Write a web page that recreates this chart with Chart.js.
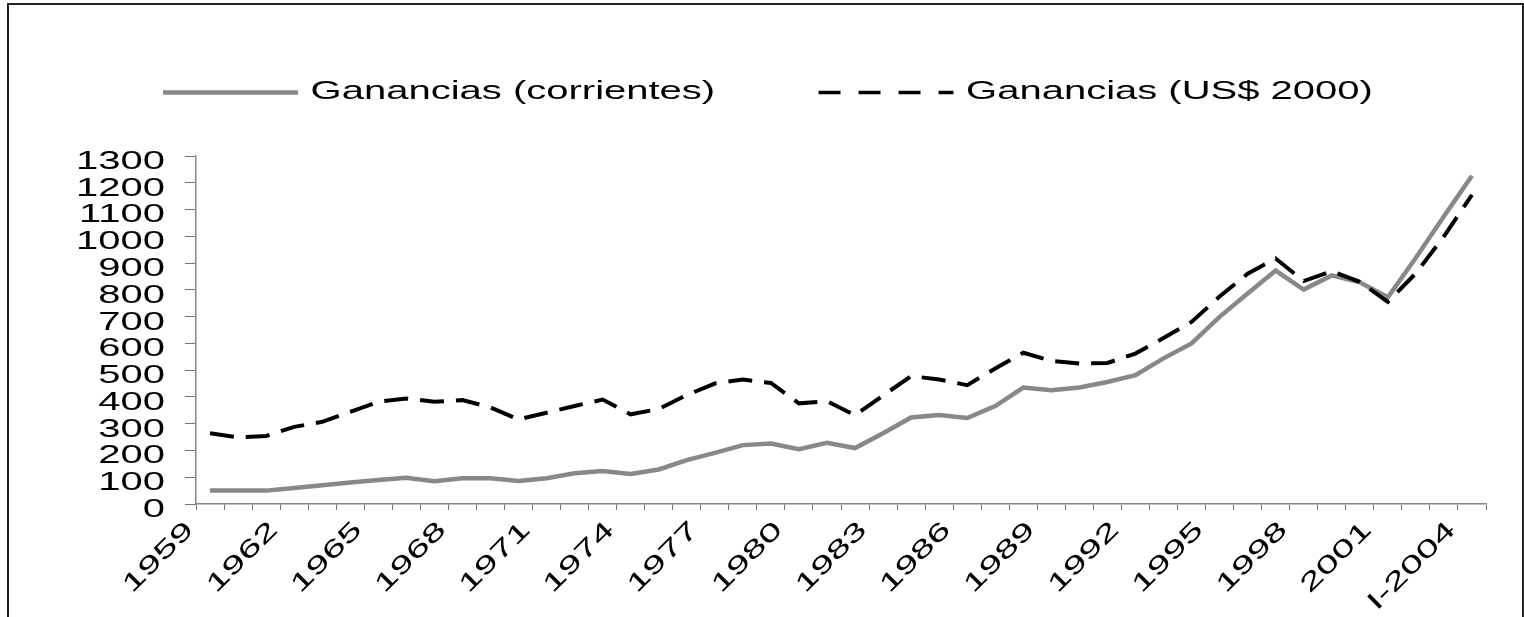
<!DOCTYPE html>
<html lang="es">
<head>
<meta charset="utf-8">
<title>Ganancias</title>
<script src="https://cdn.jsdelivr.net/npm/chart.js@4.4.1/dist/chart.umd.min.js"></script>
<style>
  html, body { margin: 0; padding: 0; background: #fff; overflow: hidden; }
  #wrap { position: relative; width: 1524px; height: 617px; }
  #frame { position: absolute; left: 7px; top: 3px; width: 1513px; height: 700px; border: 2px solid #222; }
  #chart { position: absolute; left: 0; top: 0; }
</style>
</head>
<body>
<div id="wrap">
  <div id="frame"></div>
  <canvas id="chart" width="1524" height="617"></canvas>
</div>
<script>
// años (el último es el primer trimestre de 2004)
const years = [
  '1959', '1960', '1961', '1962', '1963', '1964', '1965', '1966', '1967', '1968',
  '1969', '1970', '1971', '1972', '1973', '1974', '1975', '1976', '1977', '1978',
  '1979', '1980', '1981', '1982', '1983', '1984', '1985', '1986', '1987', '1988',
  '1989', '1990', '1991', '1992', '1993', '1994', '1995', '1996', '1997', '1998',
  '1999', '2000', '2001', '2002', '2003', 'I-2004'
];

const corrientes = [
  50, 50, 50, 60, 70, 80, 90, 98, 85, 96,
  96, 86, 96, 115, 123, 112, 129, 164, 191, 220,
  226, 205, 229, 209, 264, 323, 332, 321, 366, 435,
  425, 435, 456, 481, 544, 600, 699, 786, 872, 801,
  854, 828, 772, 920, 1075, 1226
];

const usd2000 = [
  264, 249, 254, 288, 307, 344, 382, 394, 382, 388,
  361, 316, 341, 366, 390, 335, 355, 407, 450, 465,
  452, 376, 384, 332, 405, 478, 465, 444, 506, 565,
  535, 525, 527, 562, 620, 680, 775, 860, 917, 833,
  870, 830, 755, 862, 1000, 1155
];

const seriesNames = ['Ganancias (corrientes)', 'Ganancias (US$ 2000)'];
const yMin = 0;
const yMax = 1300;
const yStep = 100;
const labelEvery = 3;

// the original uses a very wide sans serif, so every text gets stretched sideways
const FONT_STRETCH = 1.6;
const canvas = document.getElementById('chart');
const ctx = canvas.getContext('2d');
const plainFillText = ctx.fillText.bind(ctx);
const plainMeasureText = ctx.measureText.bind(ctx);
ctx.fillText = (text, x, y) => {
  ctx.save();
  ctx.translate(x, y);
  ctx.scale(FONT_STRETCH, 1);
  plainFillText(text, 0, 0);
  ctx.restore();
};
ctx.measureText = (text) => {
  const m = plainMeasureText(text);
  return {
    width: m.width * FONT_STRETCH,
    actualBoundingBoxAscent: m.actualBoundingBoxAscent,
    actualBoundingBoxDescent: m.actualBoundingBoxDescent
  };
};

const font = { family: '"Liberation Sans", Arial, sans-serif', size: 25 };

new Chart(canvas, {
  type: 'line',
  data: {
    labels: years,
    datasets: [
      {
        label: seriesNames[0],
        data: corrientes,
        borderColor: '#888888',
        backgroundColor: '#888888',
        borderWidth: 4.5,
        pointRadius: 0,
        tension: 0,
        order: 1
      },
      {
        label: seriesNames[1],
        data: usd2000,
        borderColor: '#000000',
        backgroundColor: '#000000',
        borderWidth: 4,
        borderDash: [24, 12],
        pointRadius: 0,
        tension: 0,
        order: 0   // black dashes sit on top of the grey line
      }
    ]
  },
  options: {
    responsive: false,
    devicePixelRatio: 1,
    animation: false,
    layout: { padding: { left: 50, right: 38, top: 10, bottom: 0 } },
    plugins: {
      tooltip: { enabled: false },
      legend: {
        position: 'top',
        weight: 3000,
        labels: {
          font: font,
          color: '#000',
          usePointStyle: true,
          pointStyle: 'line',
          pointStyleWidth: 135,
          padding: 70,
          generateLabels(chart) {
            const items = Chart.defaults.plugins.legend.labels.generateLabels(chart);
            items.sort((a, b) => a.datasetIndex - b.datasetIndex);
            items[0].text += '\u00a0\u00a0\u00a0';
            items[0].lineDash = [];
            items[0].lineWidth = 4.5;
            items[1].lineDash = [22, 18];
            items[1].lineWidth = 3.5;
            return items;
          }
        }
      },
      // empty title only keeps the gap between legend and plot
      title: {
        display: true,
        text: ' ',
        font: { size: 10 },
        padding: { top: 0, bottom: 29 }
      }
    },
    scales: {
      x: {
        offset: true,
        grid: {
          offset: true,
          drawOnChartArea: false,
          drawTicks: true,
          tickLength: 6,
          color: '#777'
        },
        border: { color: '#888', width: 1.5 },
        ticks: {
          font: font,
          color: '#000',
          autoSkip: false,
          maxRotation: 45,
          minRotation: 45,
          labelOffset: -20,
          padding: 5.5,
          callback(value, index) {
            return index % labelEvery === 0 ? this.getLabelForValue(value) : '';
          }
        },
        afterFit(scale) { scale.height = 113; }
      },
      y: {
        min: yMin,
        max: yMax,
        grid: {
          drawOnChartArea: false,
          drawTicks: true,
          tickLength: 11,
          color: '#777'
        },
        border: { color: '#888', width: 1.5 },
        ticks: {
          font: font,
          color: '#000',
          stepSize: yStep,
          autoSkip: false,
          padding: 20,
          labelOffset: 6,
          callback: (value) => String(value)
        },
        afterFit(scale) { scale.width = 146; }
      }
    }
  }
});
</script>
</body>
</html>
